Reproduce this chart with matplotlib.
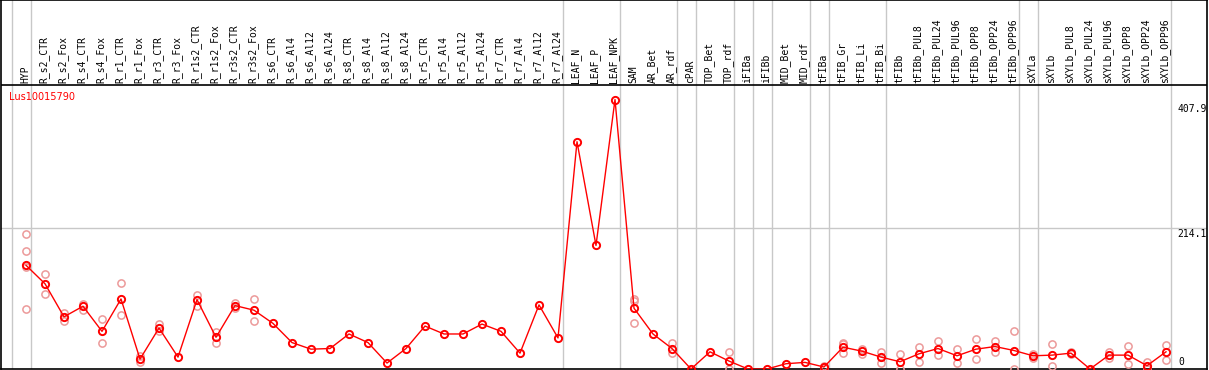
import matplotlib
matplotlib.use('Agg')
import matplotlib.pyplot as plt

# 樣本名稱 (x 軸標籤, 畫在上方)
labels = ['HYP', 'R_s2_CTR', 'R_s2_Fox', 'R_s4_CTR', 'R_s4_Fox', 'R_r1_CTR', 'R_r1_Fox',
          'R_r3_CTR', 'R_r3_Fox', 'R_r1s2_CTR', 'R_r1s2_Fox', 'R_r3s2_CTR', 'R_r3s2_Fox',
          'R_s6_CTR', 'R_s6_Al4', 'R_s6_Al12', 'R_s6_Al24', 'R_s8_CTR', 'R_s8_Al4',
          'R_s8_Al12', 'R_s8_Al24', 'R_r5_CTR', 'R_r5_Al4', 'R_r5_Al12', 'R_r5_Al24',
          'R_r7_CTR', 'R_r7_Al4', 'R_r7_Al12', 'R_r7_Al24', 'LEAF_N', 'LEAF_P', 'LEAF_NPK',
          'SAM', 'AR_Bet', 'AR_rdf', 'cPAR', 'TOP_Bet', 'TOP_rdf', 'iFIBa', 'iFIBb',
          'MID_Bet', 'MID_rdf', 'tFIBa', 'tFIB_Gr', 'tFIB_Li', 'tFIB_Bi', 'tFIBb',
          'tFIBb_PUL8', 'tFIBb_PUL24', 'tFIBb_PUL96', 'tFIBb_OPP8', 'tFIBb_OPP24',
          'tFIBb_OPP96', 'sXYLa', 'sXYLb', 'sXYLb_PUL8', 'sXYLb_PUL24', 'sXYLb_PUL96',
          'sXYLb_OPP8', 'sXYLb_OPP24', 'sXYLb_OPP96']

# 平均值
means = [157, 129, 79, 95, 57, 106, 15, 62, 18, 105, 48, 96, 89,
         69, 40, 30, 31, 53, 40, 9, 31, 65, 53, 53, 68, 57, 24, 97, 47,
         344, 187, 407.9, 92, 53, 31, 0, 26, 12, 0, 0, 8, 10, 3, 33, 27, 18, 11,
         23, 31, 20, 30, 34, 28, 20, 21, 24, 0, 21, 21, 5, 26]

# 各重複樣本
replicates = [[204, 179, 154, 91], [144, 113], [85, 72], [99, 90], [75, 39], [130, 81],
              [19, 10], [68, 57], [], [112, 95], [56, 40], [100, 93], [106, 73],
              [], [], [], [], [], [], [], [], [], [], [], [], [], [], [], [],
              [], [], [], [106, 103, 69], [], [39, 24], [], [], [25, 0], [], [],
              [], [], [5, 2], [40, 38, 24], [31, 23], [26, 9], [22, 0],
              [34, 11], [42, 21], [30, 9], [45, 15], [43, 26], [57, 0],
              [23, 17], [38, 4], [26, 22], [], [26, 17], [35, 8], [11, 0], [37, 13]]

# 分組分隔線 (在該樣本之後)
group_ends = [-1, 0, 28, 31, 34, 35, 37, 38, 39, 41, 42, 45, 52, 53, 60]

gene = 'Lus10015790'
y_max = 407.9
y_mid = 214.1

# plot 初始化
W, H = 1209, 370
fig = plt.figure(figsize=(W / 100, H / 100), dpi=100)
ax = fig.add_axes([1 / W, 1 / H, 1206 / W, 369 / H])

px_per_unit = 269.5 / y_max           # 資料區 0 ~ 407.9 佔約 269.5 px
y_top = 369 / px_per_unit             # 整個框 (含上方標籤區)
y_head = (369 - 85) / px_per_unit     # 標籤區與資料區的分界
ax.set_ylim(0, y_top)
ax.set_xlim((1 - 26) / 19, (1207 - 26) / 19)
ax.set_xticks([])
ax.set_yticks([])
for s in ax.spines.values():
    s.set_color('black')
    s.set_linewidth(1.2)

x = list(range(len(labels)))

# 格線
for g in group_ends:
    ax.axvline(g + 0.24, color='#c8c8c8', lw=1, zorder=1)
ax.axhline(y_mid, color='#c8c8c8', lw=1, zorder=1)
ax.axhline(y_head, color='black', lw=1.2, zorder=3)

# 重複樣本
rx, ry = [], []
for i, reps in enumerate(replicates):
    for v in reps:
        rx.append(i)
        ry.append(v)
ax.plot(rx, ry, ls='none', marker='o', ms=5.2, mfc='none', mec='#ec9a9a', mew=1.1, zorder=4)

# 平均值
ax.plot(x, means, color='red', lw=1, marker='o', ms=5.2, mfc='none', mec='red', mew=1.4, zorder=5)

# 上方標籤
for i, lab in enumerate(labels):
    ax.annotate(lab, (i, y_head), xytext=(-1, 2), textcoords='offset pixels',
                rotation=90, ha='center', va='bottom', fontsize=7,
                family='DejaVu Sans Mono', zorder=6)

# 右側數值
ax.annotate('%.1f' % y_max, (60.6, y_max), xytext=(0, -4), textcoords='offset pixels',
            ha='left', va='top', fontsize=7, family='DejaVu Sans Mono')
ax.annotate('%.1f' % y_mid, (60.6, y_mid), xytext=(0, -1), textcoords='offset pixels',
            ha='left', va='top', fontsize=7, family='DejaVu Sans Mono')
ax.annotate('0', (60.6, 0), xytext=(1, 2), textcoords='offset pixels',
            ha='left', va='bottom', fontsize=7, family='DejaVu Sans Mono')

# 基因名稱
ax.text(8 / 1206, (369 - 97) / 369, gene, transform=ax.transAxes, color='red',
        fontsize=7, ha='left', va='center')

plt.savefig('out.png', dpi=100)
